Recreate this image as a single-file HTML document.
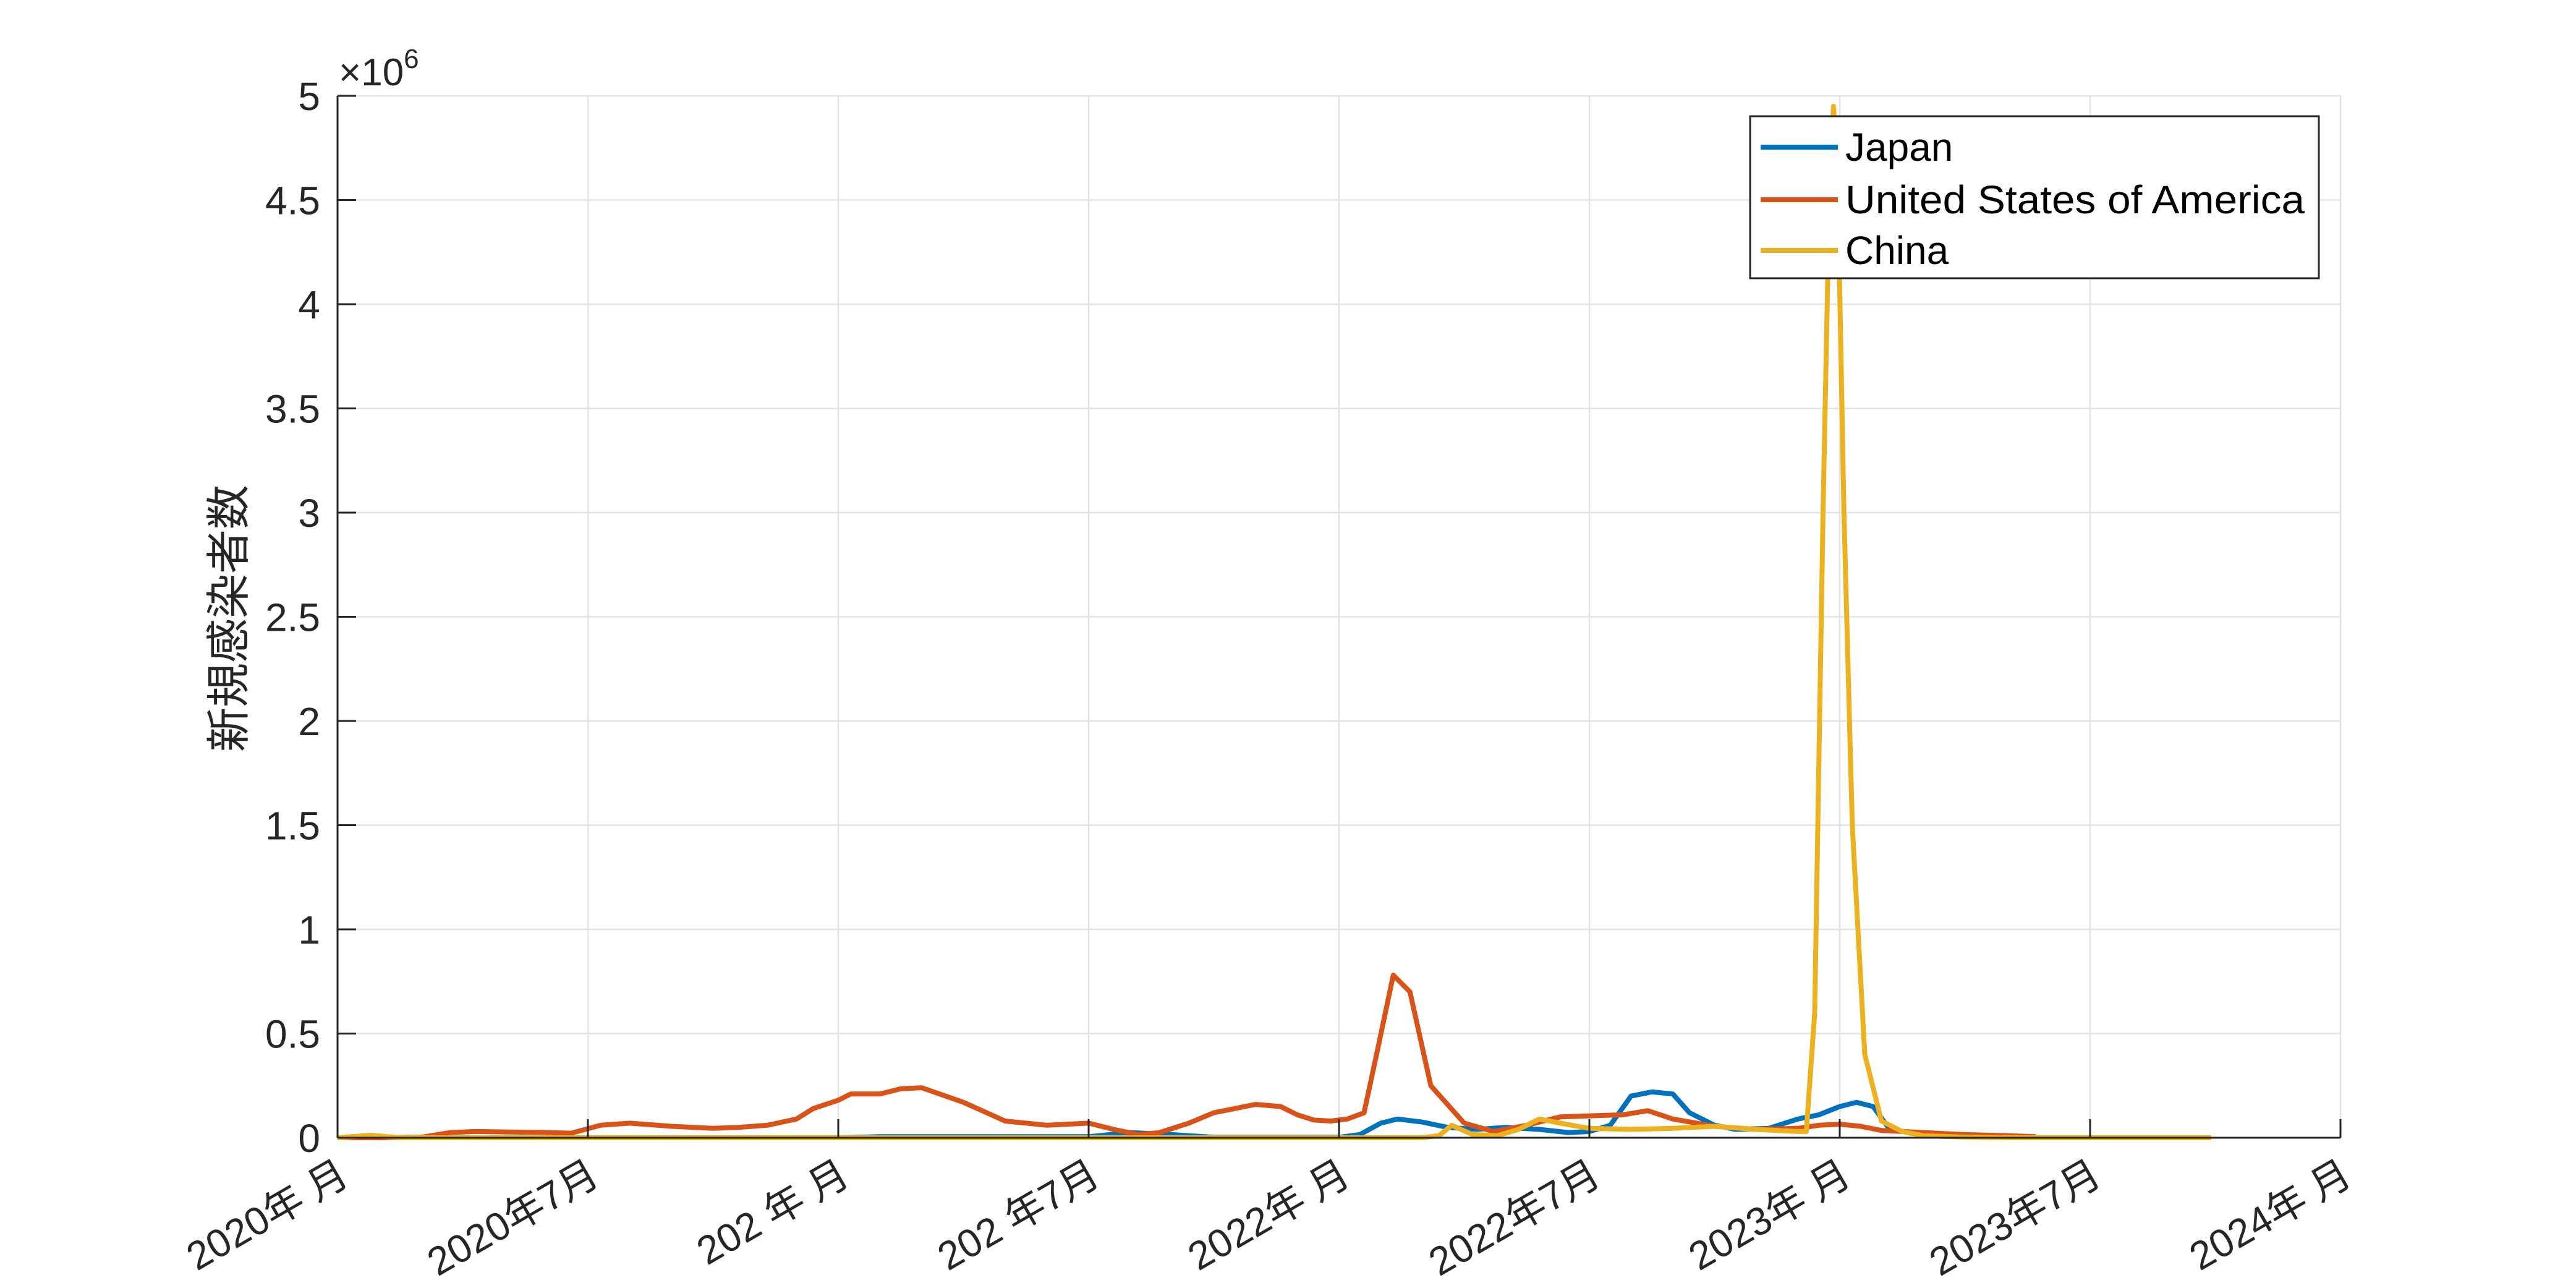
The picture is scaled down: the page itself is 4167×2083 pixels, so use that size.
<!DOCTYPE html>
<html><head><meta charset="utf-8"><style>
html,body{margin:0;padding:0;background:#fff;}
svg{display:block;font-family:"Liberation Sans","Noto Sans CJK JP",sans-serif;}
</style></head><body>
<svg id="chart" width="4167" height="2083" viewBox="0 0 4167 2083" xmlns="http://www.w3.org/2000/svg">
<rect width="4167" height="2083" fill="#fff"/>
<g id="grid"></g>
<g id="series"></g>
<g id="axes"></g>
<text x="548" y="138" font-size="62" fill="#262626">×10<tspan dy="-28" font-size="44">6</tspan></text>
<text transform="translate(395,1000) rotate(-90)" text-anchor="middle" font-size="72" fill="#262626">新規感染者数</text>
<g>
<rect x="2831" y="188" width="920" height="262" fill="#fff" stroke="#262626" stroke-width="3"/>
<g><line x1="2848" y1="238" x2="2973" y2="238" stroke="#0072BD" stroke-width="8"/><text x="2985" y="260" font-size="64" fill="#000">Japan</text></g>
<g><line x1="2848" y1="323" x2="2973" y2="323" stroke="#D95319" stroke-width="8"/><text x="2985" y="345" font-size="64" fill="#000" textLength="743" lengthAdjust="spacingAndGlyphs">United States of America</text></g>
<g><line x1="2848" y1="405" x2="2973" y2="405" stroke="#EDB120" stroke-width="8"/><text x="2985" y="427" font-size="64" fill="#000">China</text></g>
</g>
</svg>
<script>
// months since 2020-01, values in thousands of daily new cases
const usMonths = [0,1,2,2.7,3.3,4,5,5.6,6.3,7,8,9,9.6,10.3,11,11.4,11.7,12,12.3,13,13.5,14,15,16,17,18,18.6,19.2,19.7,20.4,21,22,22.6,23,23.4,23.8,24.2,24.6,24.9,25.3,25.7,26.2,27,27.7,28.5,29.3,30,30.8,31.4,32,33,34,35,35.5,36,36.5,37,38,39,40,40.7];
const usVals   = [0,0,2,25,30,28,25,22,60,70,55,45,50,60,90,140,160,180,210,210,235,240,170,80,60,70,40,15,25,70,120,160,150,110,85,80,90,120,400,780,700,250,70,30,60,100,105,110,130,90,55,40,45,60,65,55,35,25,15,10,5];
const jpMonths = [0,12,13,18,19,20,21,24,24.5,25,25.4,26,26.6,27.3,28,28.8,29.5,30,30.5,31,31.5,32,32.4,33,33.5,34.3,35,35.5,36,36.4,36.8,37.2,38,39,40,40.7];
const jpVals   = [0,0,5,5,25,15,2,2,15,70,90,75,50,40,50,40,25,30,60,200,220,210,120,60,40,45,90,110,150,170,150,40,15,5,2,0];
const cnMonths = [0,0.8,1.5,3,26,26.4,26.7,27.2,27.8,28.3,28.8,29.3,30,31,32,33,34,35,35.2,35.4,35.6,35.75,35.85,35.95,36.1,36.3,36.6,37,37.5,38,39,40,42,44.9];
const cnVals   = [0,12,0,0,0,10,60,15,10,40,90,70,45,40,45,55,40,30,30,600,3000,4500,4950,4600,3000,1500,400,80,30,10,3,0,0,0];
const yTicks = [0,0.5,1,1.5,2,2.5,3,3.5,4,4.5,5];
const yTickLabels = ["0","0.5","1","1.5","2","2.5","3","3.5","4","4.5","5"];
const xTicks = [0,6,12,18,24,30,36,42,48];
const xTickLabels = ["2020年 月","2020年7月","202 年 月","202 年7月","2022年 月","2022年7月","2023年 月","2023年7月","2024年 月"];

const L=546,R=3786,T=155,B=1840;
const xs=m=>L+(m/48)*(R-L);
const ys=v=>B-(v/5000)*(B-T);
const NS="http://www.w3.org/2000/svg";
function mk(tag,attrs,parent){const e=document.createElementNS(NS,tag);for(const k in attrs)e.setAttribute(k,attrs[k]);parent.appendChild(e);return e;}
const grid=document.getElementById('grid'),axes=document.getElementById('axes'),series=document.getElementById('series');
yTicks.forEach((t,i)=>{
  const y=ys(t*1000);
  const g=mk('line',{x1:L,x2:R,y1:y,y2:y,stroke:'#e3e3e3','stroke-width':2.5},grid);
  
  
  const tk=mk('line',{x1:L,x2:L+30,y1:y,y2:y,stroke:'#262626','stroke-width':3},axes);
  
  
  const tx=mk('text',{x:L-28,y:y+23,'text-anchor':'end','font-size':64,fill:'#262626'},axes);
  tx.textContent=yTickLabels[i];
  
  
});
xTicks.forEach((t,i)=>{
  const x=xs(t);
  const g=mk('line',{x1:x,x2:x,y1:T,y2:B,stroke:'#e3e3e3','stroke-width':2.5},grid);
  
  
  const tk=mk('line',{x1:x,x2:x,y1:B,y2:B-30,stroke:'#262626','stroke-width':3},axes);
  
  
  const tx=mk('text',{transform:`translate(${x+22},${B+72}) rotate(-30)`,'text-anchor':'end','font-size':64,fill:'#262626'},axes);
  tx.textContent=xTickLabels[i];
  
  
});
const ax1=mk('line',{x1:L,x2:L,y1:T,y2:B,stroke:'#262626','stroke-width':3},axes);


const ax2=mk('line',{x1:L,x2:R,y1:B,y2:B,stroke:'#262626','stroke-width':3},axes);


function draw(ms,vs,color,name){
  const d=ms.map((m,i)=>(i?'L':'M')+xs(m).toFixed(1)+','+ys(vs[i]).toFixed(1)).join(' ');
  const p=mk('path',{d:d,fill:'none',stroke:color,'stroke-width':8,'stroke-linejoin':'round'},series);
  
  
}
draw(jpMonths,jpVals,'#0072BD','line-japan');
draw(usMonths,usVals,'#D95319','line-usa');
draw(cnMonths,cnVals,'#EDB120','line-china');
</script>
</body></html>
